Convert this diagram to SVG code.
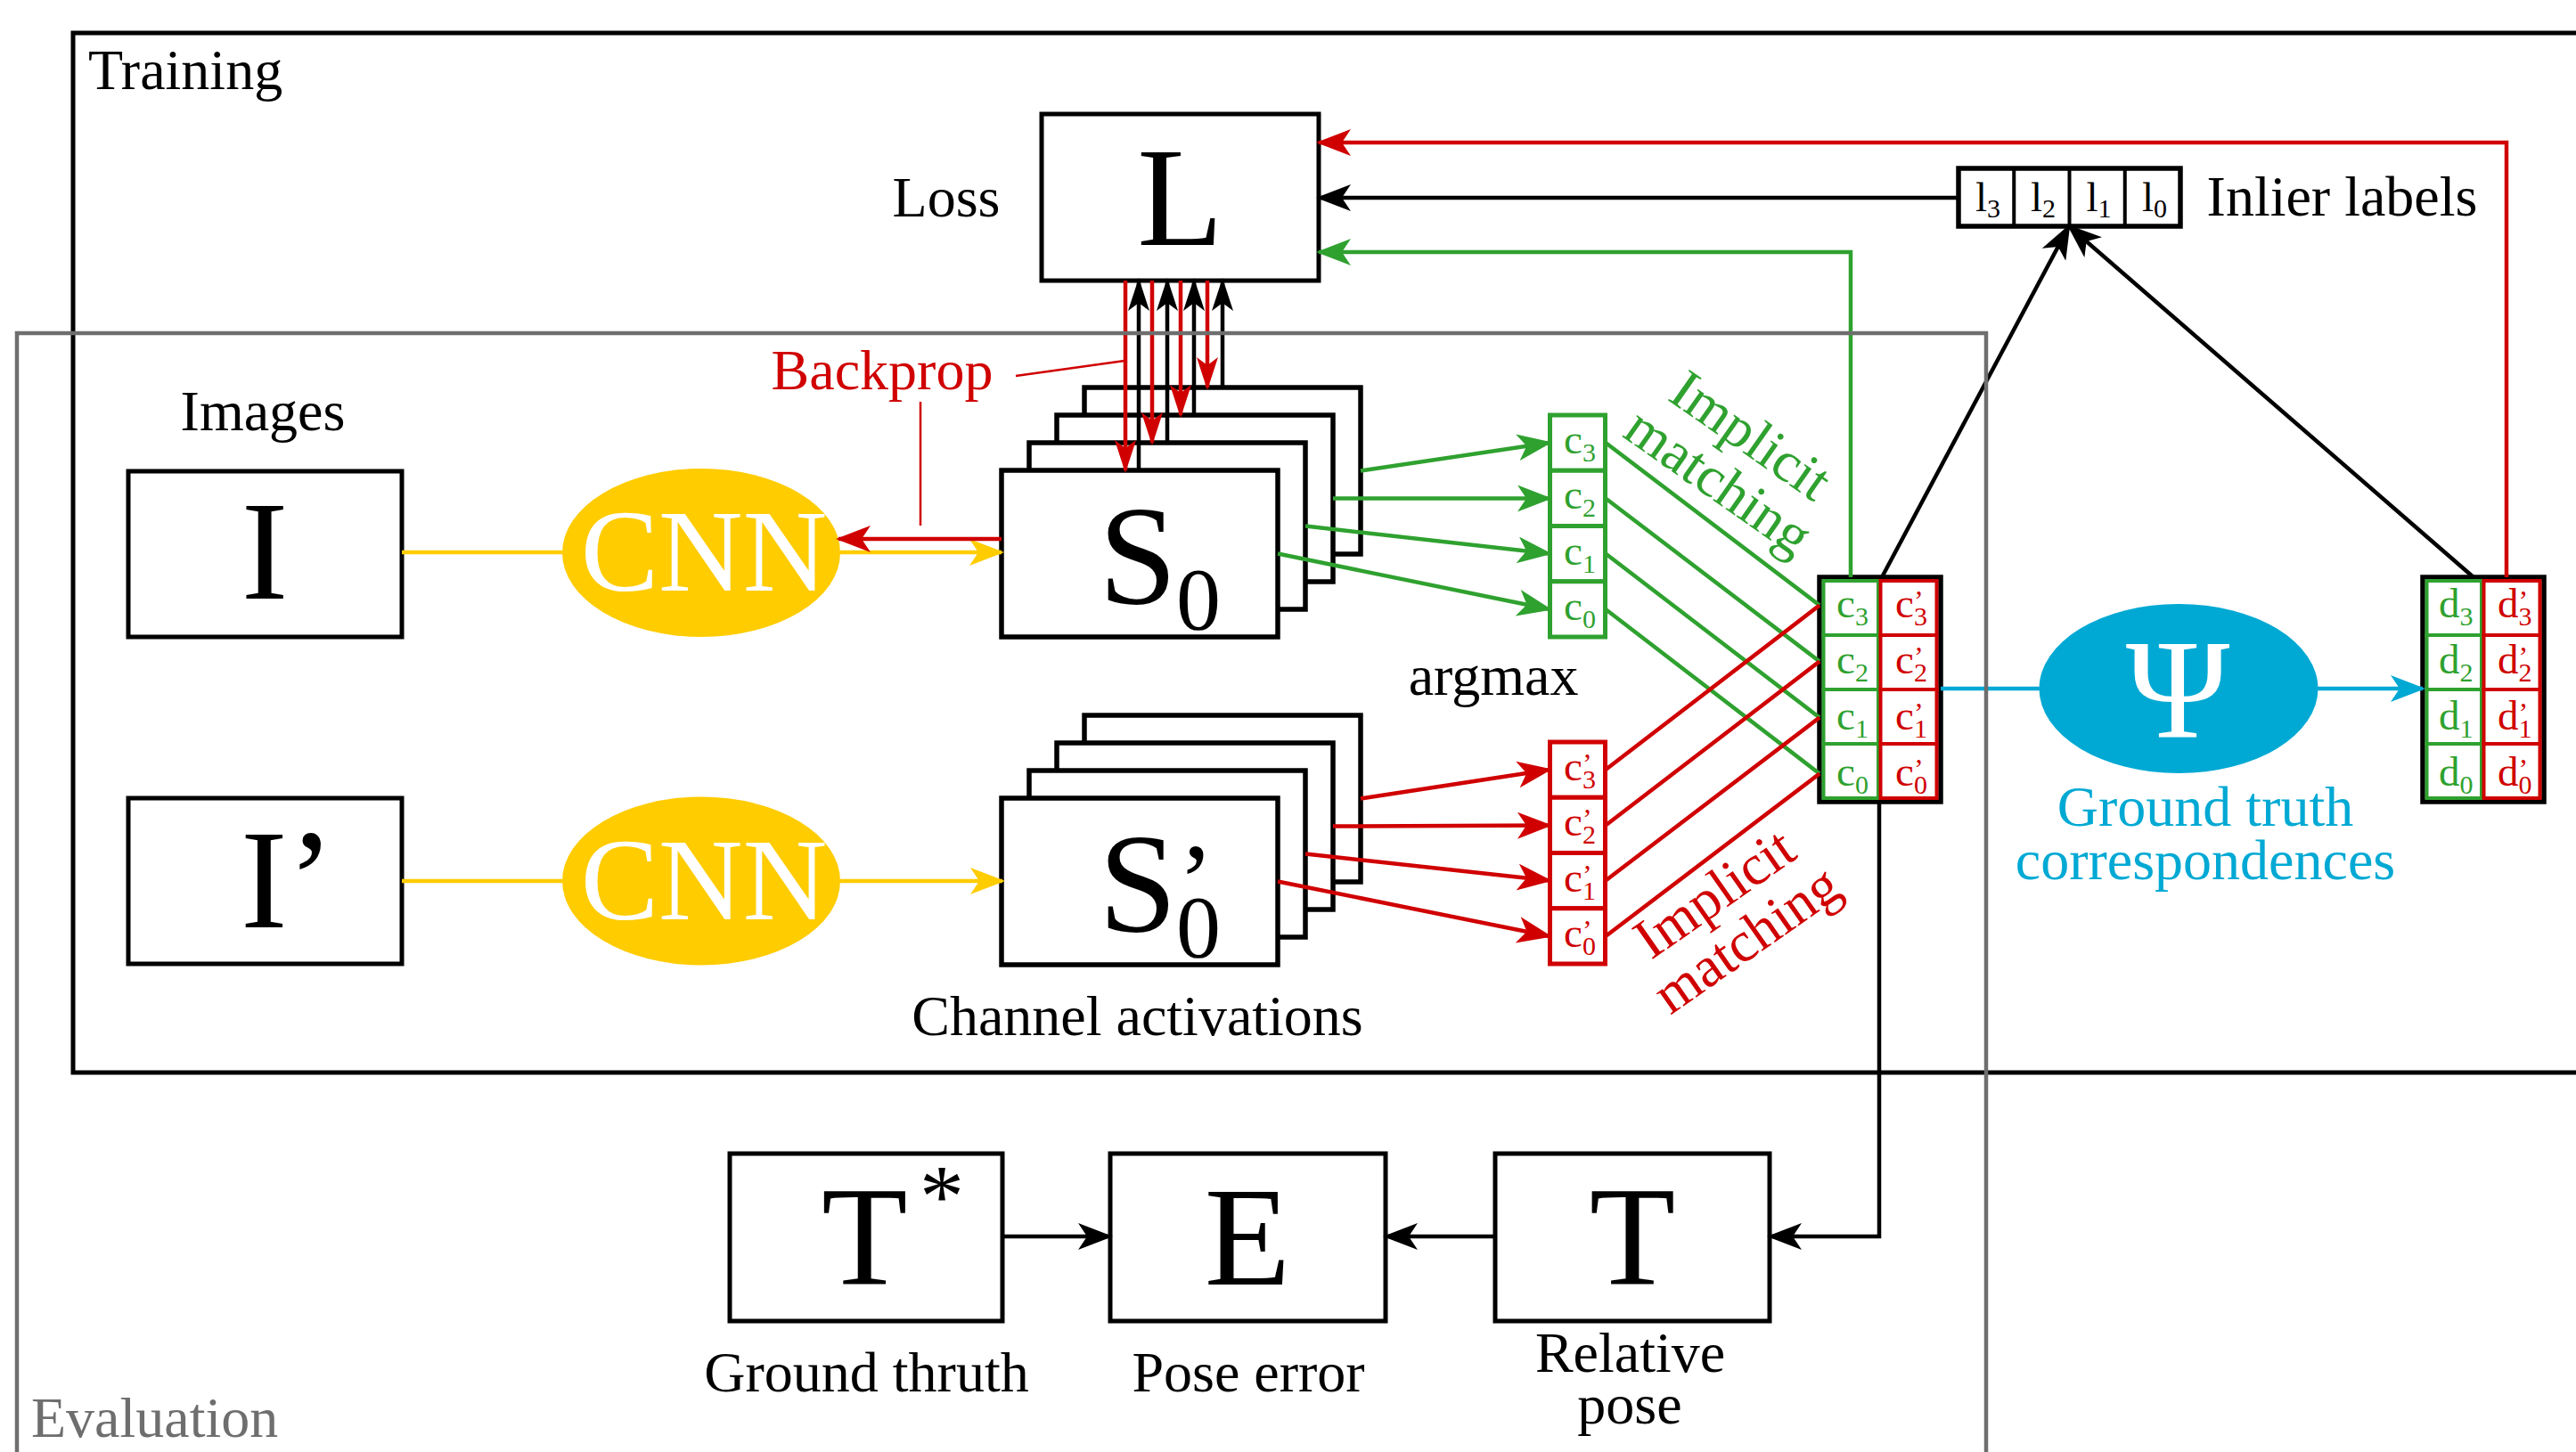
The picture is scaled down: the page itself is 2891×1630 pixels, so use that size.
<svg xmlns="http://www.w3.org/2000/svg" width="2891" height="1630" viewBox="0 0 2891 1630">
  <defs>
    <style>
      text { font-family: "Liberation Serif", "Times New Roman", serif; }
      .lbl { font-size: 64px; fill: #000; }
      .big { font-size: 158px; fill: #000; }
      .box { fill: #fff; stroke: #000; stroke-width: 5; }
      .sheet { fill: #fff; stroke: #000; stroke-width: 5.5; }
      .frame-train { fill: none; stroke: #000; stroke-width: 5; }
      .frame-eval { fill: none; stroke: #6e6e6e; stroke-width: 4.5; }
      .w { fill: none; stroke-width: 4.5; }
      .thin { fill: none; stroke-width: 2.5; }
      .k { stroke: #000; }
      .r { stroke: #d00000; }
      .g { stroke: #2fa12f; }
      .y { stroke: #ffcc00; }
      .b { stroke: #00a9d4; }
      .gc { fill: #fff; stroke: #2fa12f; stroke-width: 5; }
      .rc { fill: #fff; stroke: #d00000; stroke-width: 5; }
      .gi { fill: #fff; stroke: #2fa12f; stroke-width: 4; }
      .ri { fill: #fff; stroke: #d00000; stroke-width: 4; }
      .cell { font-size: 47px; }
      .sub { font-size: 30px; }
      .pr { font-size: 32px; }
      .tg { fill: #2fa12f; }
      .tr { fill: #d00000; }
      .tb { fill: #00a9d4; }
      .tw { fill: #fff; }
      .tgray { fill: #6e6e6e; }
      .mid { text-anchor: middle; }
    </style>
    <marker id="ah-k" viewBox="0 0 40 30" refX="37" refY="15" markerWidth="40" markerHeight="30" markerUnits="userSpaceOnUse" orient="auto">
      <path d="M40,15 L1,0 L11,15 L1,30 Z" fill="#000"/>
    </marker>
    <marker id="ah-r" viewBox="0 0 40 30" refX="37" refY="15" markerWidth="40" markerHeight="30" markerUnits="userSpaceOnUse" orient="auto">
      <path d="M40,15 L1,0 L11,15 L1,30 Z" fill="#d00000"/>
    </marker>
    <marker id="ah-g" viewBox="0 0 40 30" refX="37" refY="15" markerWidth="40" markerHeight="30" markerUnits="userSpaceOnUse" orient="auto">
      <path d="M40,15 L1,0 L11,15 L1,30 Z" fill="#2fa12f"/>
    </marker>
    <marker id="ah-y" viewBox="0 0 40 30" refX="37" refY="15" markerWidth="40" markerHeight="30" markerUnits="userSpaceOnUse" orient="auto">
      <path d="M40,15 L1,0 L11,15 L1,30 Z" fill="#ffcc00"/>
    </marker>
    <marker id="ah-b" viewBox="0 0 40 30" refX="37" refY="15" markerWidth="40" markerHeight="30" markerUnits="userSpaceOnUse" orient="auto">
      <path d="M40,15 L1,0 L11,15 L1,30 Z" fill="#00a9d4"/>
    </marker>
    <!-- narrower heads for the packed backprop arrows -->
    <marker id="ah-k-s" viewBox="0 0 38 24" refX="35" refY="12" markerWidth="38" markerHeight="24" markerUnits="userSpaceOnUse" orient="auto">
      <path d="M38,12 L1,0 L10,12 L1,24 Z" fill="#000"/>
    </marker>
    <marker id="ah-r-s" viewBox="0 0 38 24" refX="35" refY="12" markerWidth="38" markerHeight="24" markerUnits="userSpaceOnUse" orient="auto">
      <path d="M38,12 L1,0 L10,12 L1,24 Z" fill="#d00000"/>
    </marker>
  </defs>

  <rect width="2891" height="1630" fill="#fff"/>

  <!-- Training frame -->
  <g id="frame-training">
    <rect class="frame-train" x="82" y="37" width="2840" height="1167"/>
    <text class="lbl" x="99" y="100">Training</text>
  </g>

  <!-- Loss -->
  <g id="loss">
    <rect class="box" x="1169" y="128" width="311" height="187"/>
    <text class="big mid" x="1324.5" y="275">L</text>
    <text class="lbl mid" x="1062" y="243">Loss</text>
  </g>

  <!-- Inlier labels -->
  <g id="inliers">
    <rect x="2198" y="189" width="249" height="65" fill="#fff" stroke="#000" stroke-width="5.5"/>
    <path d="M2260.25,189 V254 M2322.5,189 V254 M2384.75,189 V254" stroke="#000" stroke-width="4" fill="none"/>
    <text class="cell" x="2217" y="237">l<tspan class="sub" dy="7">3</tspan></text>
    <text class="cell" x="2279" y="237">l<tspan class="sub" dy="7">2</tspan></text>
    <text class="cell" x="2341.5" y="237">l<tspan class="sub" dy="7">1</tspan></text>
    <text class="cell" x="2404" y="237">l<tspan class="sub" dy="7">0</tspan></text>
    <text class="lbl mid" x="2628.5" y="242">Inlier labels</text>
  </g>

  <!-- Input images -->
  <g id="images-label">
    <text class="lbl mid" x="295" y="483">Images</text>
  </g>
  <g id="img-i">
    <rect class="box" x="144" y="529" width="307" height="186"/>
    <text class="big mid" x="297" y="672" font-size="156">I</text>
  </g>
  <g id="img-i2">
    <rect class="box" x="144" y="896" width="307" height="186"/>
    <text class="big" x="270" y="1041" font-size="156">I’</text>
  </g>

  <!-- CNNs -->
  <g id="cnn-1">
    <ellipse cx="787" cy="620.5" rx="156" ry="94.5" fill="#ffcc00"/>
    <text class="tw mid" x="790" y="663" font-size="131">CNN</text>
  </g>
  <g id="cnn-2">
    <ellipse cx="787" cy="989" rx="156" ry="94.5" fill="#ffcc00"/>
    <text class="tw mid" x="790" y="1031.5" font-size="131">CNN</text>
  </g>

  <!-- Channel activation stacks -->
  <g id="act-s0">
    <rect class="sheet" x="1217" y="435" width="310" height="187"/>
    <rect class="sheet" x="1186" y="466" width="310" height="187"/>
    <rect class="sheet" x="1155" y="497" width="310" height="187"/>
    <rect class="sheet" x="1124" y="528" width="310" height="187"/>
    <text class="big" x="1233" y="677" font-size="160">S<tspan font-size="100" x="1320" y="706">0</tspan></text>
  </g>
  <g id="act-s0p">
    <rect class="sheet" x="1217" y="803" width="310" height="187"/>
    <rect class="sheet" x="1186" y="834" width="310" height="187"/>
    <rect class="sheet" x="1155" y="865" width="310" height="187"/>
    <rect class="sheet" x="1124" y="896" width="310" height="187"/>
    <text class="big" x="1233" y="1045" font-size="160">S<tspan font-size="120" x="1322" y="1030">’</tspan><tspan font-size="100" x="1320" y="1074">0</tspan></text>
  </g>
  <g id="act-label">
    <text class="lbl mid" x="1276.5" y="1162">Channel activations</text>
  </g>

  <!-- argmax keypoints of I -->
  <g id="kp-c">
    <rect class="gc" x="1739.5" y="466" width="62" height="62.25"/>
    <rect class="gc" x="1739.5" y="528.25" width="62" height="62.25"/>
    <rect class="gc" x="1739.5" y="590.5" width="62" height="62.25"/>
    <rect class="gc" x="1739.5" y="652.75" width="62" height="62.25"/>
    <text class="cell tg" x="1755" y="509">c<tspan class="sub" dy="9">3</tspan></text>
    <text class="cell tg" x="1755" y="571">c<tspan class="sub" dy="9">2</tspan></text>
    <text class="cell tg" x="1755" y="634">c<tspan class="sub" dy="9">1</tspan></text>
    <text class="cell tg" x="1755" y="696">c<tspan class="sub" dy="9">0</tspan></text>
  </g>
  <!-- argmax keypoints of I' -->
  <g id="kp-cp">
    <rect class="rc" x="1739.5" y="833" width="62" height="62.25"/>
    <rect class="rc" x="1739.5" y="895.25" width="62" height="62.25"/>
    <rect class="rc" x="1739.5" y="957.5" width="62" height="62.25"/>
    <rect class="rc" x="1739.5" y="1019.75" width="62" height="62.25"/>
    <text class="cell tr" x="1755" y="876">c<tspan class="pr" dy="-8">’</tspan><tspan class="sub" x="1775.9" dy="17">3</tspan></text>
    <text class="cell tr" x="1755" y="938">c<tspan class="pr" dy="-8">’</tspan><tspan class="sub" x="1775.9" dy="17">2</tspan></text>
    <text class="cell tr" x="1755" y="1000.5">c<tspan class="pr" dy="-8">’</tspan><tspan class="sub" x="1775.9" dy="17">1</tspan></text>
    <text class="cell tr" x="1755" y="1063">c<tspan class="pr" dy="-8">’</tspan><tspan class="sub" x="1775.9" dy="17">0</tspan></text>
  </g>
  <g id="argmax-label">
    <text class="lbl mid" x="1676" y="780">argmax</text>
  </g>

  <!-- matched pairs -->
  <g id="corr-c">
    <rect x="2042" y="648" width="136" height="252" fill="#fff" stroke="#000" stroke-width="5.5"/>
    <rect class="gi" x="2046.5" y="652" width="61.5" height="61"/>
    <rect class="gi" x="2046.5" y="713" width="61.5" height="61"/>
    <rect class="gi" x="2046.5" y="774" width="61.5" height="61"/>
    <rect class="gi" x="2046.5" y="835" width="61.5" height="61"/>
    <rect class="ri" x="2110.5" y="652" width="63" height="61"/>
    <rect class="ri" x="2110.5" y="713" width="63" height="61"/>
    <rect class="ri" x="2110.5" y="774" width="63" height="61"/>
    <rect class="ri" x="2110.5" y="835" width="63" height="61"/>
    <text class="cell tg" x="2061" y="693">c<tspan class="sub" dy="9">3</tspan></text>
    <text class="cell tg" x="2061" y="756">c<tspan class="sub" dy="9">2</tspan></text>
    <text class="cell tg" x="2061" y="819">c<tspan class="sub" dy="9">1</tspan></text>
    <text class="cell tg" x="2061" y="882">c<tspan class="sub" dy="9">0</tspan></text>
    <text class="cell tr" x="2127" y="693">c<tspan class="pr" dy="-8">’</tspan><tspan class="sub" x="2147.9" dy="17">3</tspan></text>
    <text class="cell tr" x="2127" y="756">c<tspan class="pr" dy="-8">’</tspan><tspan class="sub" x="2147.9" dy="17">2</tspan></text>
    <text class="cell tr" x="2127" y="819">c<tspan class="pr" dy="-8">’</tspan><tspan class="sub" x="2147.9" dy="17">1</tspan></text>
    <text class="cell tr" x="2127" y="882">c<tspan class="pr" dy="-8">’</tspan><tspan class="sub" x="2147.9" dy="17">0</tspan></text>
  </g>

  <!-- ground truth mapping -->
  <g id="gt-psi">
    <ellipse cx="2445" cy="773" rx="156.5" ry="95" fill="#00a9d4"/>
    <text class="tw mid" x="2444" y="827" font-size="158">Ψ</text>
    <text class="lbl tb mid" x="2475" y="927">Ground truth</text>
    <text class="lbl tb mid" x="2475" y="987">correspondences</text>
  </g>

  <g id="corr-d">
    <rect x="2719" y="648" width="136" height="252" fill="#fff" stroke="#000" stroke-width="5.5"/>
    <rect class="gi" x="2723.5" y="652" width="61.5" height="61"/>
    <rect class="gi" x="2723.5" y="713" width="61.5" height="61"/>
    <rect class="gi" x="2723.5" y="774" width="61.5" height="61"/>
    <rect class="gi" x="2723.5" y="835" width="61.5" height="61"/>
    <rect class="ri" x="2787.5" y="652" width="63" height="61"/>
    <rect class="ri" x="2787.5" y="713" width="63" height="61"/>
    <rect class="ri" x="2787.5" y="774" width="63" height="61"/>
    <rect class="ri" x="2787.5" y="835" width="63" height="61"/>
    <text class="cell tg" x="2737" y="693">d<tspan class="sub" dy="9">3</tspan></text>
    <text class="cell tg" x="2737" y="756">d<tspan class="sub" dy="9">2</tspan></text>
    <text class="cell tg" x="2737" y="819">d<tspan class="sub" dy="9">1</tspan></text>
    <text class="cell tg" x="2737" y="882">d<tspan class="sub" dy="9">0</tspan></text>
    <text class="cell tr" x="2803" y="693">d<tspan class="pr" dy="-8">’</tspan><tspan class="sub" x="2826.5" dy="17">3</tspan></text>
    <text class="cell tr" x="2803" y="756">d<tspan class="pr" dy="-8">’</tspan><tspan class="sub" x="2826.5" dy="17">2</tspan></text>
    <text class="cell tr" x="2803" y="819">d<tspan class="pr" dy="-8">’</tspan><tspan class="sub" x="2826.5" dy="17">1</tspan></text>
    <text class="cell tr" x="2803" y="882">d<tspan class="pr" dy="-8">’</tspan><tspan class="sub" x="2826.5" dy="17">0</tspan></text>
  </g>

  <!-- evaluation nodes -->
  <g id="pose-gt">
    <rect class="box" x="819" y="1295" width="306" height="188"/>
    <text class="big" x="922" y="1442">T<tspan font-size="100" x="1032" y="1376">*</tspan></text>
    <text class="lbl mid" x="972.5" y="1562">Ground thruth</text>
  </g>
  <g id="pose-err">
    <rect class="box" x="1246" y="1295" width="309" height="188"/>
    <text class="big mid" x="1400" y="1442">E</text>
    <text class="lbl mid" x="1401" y="1562">Pose error</text>
  </g>
  <g id="pose-rel">
    <rect class="box" x="1678" y="1295" width="308" height="188"/>
    <text class="big mid" x="1832" y="1442">T</text>
    <text class="lbl mid" x="1829.5" y="1540">Relative</text>
    <text class="lbl mid" x="1829" y="1598">pose</text>
  </g>

  <!-- labels on the matching lines -->
  <g id="match-label-c" transform="translate(1953,506) rotate(35)">
    <text class="lbl tg mid" x="0" y="0">Implicit</text>
    <text class="lbl tg mid" x="0" y="63">matching</text>
  </g>
  <g id="match-label-cp" transform="translate(1936,1020) rotate(-35)">
    <text class="lbl tr mid" x="0" y="0">Implicit</text>
    <text class="lbl tr mid" x="0" y="63">matching</text>
  </g>
  <g id="backprop-label">
    <text class="lbl tr mid" x="990" y="437">Backprop</text>
  </g>

  <!-- connectors -->
  <g id="connectors">
    <!-- images through the CNNs -->
    <path class="w y" d="M451,620 H631"/>
    <path class="w y" d="M943,620 H1124" marker-end="url(#ah-y)"/>
    <path class="w y" d="M451,989 H631"/>
    <path class="w y" d="M943,989 H1125" marker-end="url(#ah-y)"/>
    <path class="w r" d="M1124,605 H941" marker-end="url(#ah-r)"/>
    <path class="thin r" d="M1033,451 V590"/>
    <path class="thin r" d="M1140,422 L1262,405"/>

    <!-- loss / backprop between L and the activation maps -->
    <path class="w r" d="M1263,315 V528" marker-end="url(#ah-r-s)"/>
    <path class="w r" d="M1293,315 V497" marker-end="url(#ah-r-s)"/>
    <path class="w r" d="M1325,315 V466" marker-end="url(#ah-r-s)"/>
    <path class="w r" d="M1355,315 V435" marker-end="url(#ah-r-s)"/>
    <path class="w k" d="M1278,528 V315" marker-end="url(#ah-k-s)"/>
    <path class="w k" d="M1310,497 V315" marker-end="url(#ah-k-s)"/>
    <path class="w k" d="M1340,466 V315" marker-end="url(#ah-k-s)"/>
    <path class="w k" d="M1372,435 V315" marker-end="url(#ah-k-s)"/>

    <!-- argmax per channel -->
    <path class="w g" d="M1527,528.5 L1739,497" marker-end="url(#ah-g)"/>
    <path class="w g" d="M1496,559.5 L1739,559.5" marker-end="url(#ah-g)"/>
    <path class="w g" d="M1465,590.5 L1739,621.5" marker-end="url(#ah-g)"/>
    <path class="w g" d="M1434,621.5 L1739,684" marker-end="url(#ah-g)"/>
    <path class="w r" d="M1527,896.5 L1739,864" marker-end="url(#ah-r)"/>
    <path class="w r" d="M1496,927.5 L1739,926.5" marker-end="url(#ah-r)"/>
    <path class="w r" d="M1465,958.5 L1739,988.5" marker-end="url(#ah-r)"/>
    <path class="w r" d="M1434,989.5 L1739,1051" marker-end="url(#ah-r)"/>

    <!-- implicit matching -->
    <path class="w g" d="M1802,497 L2042,679.5 M1802,559.5 L2042,742.5 M1802,621.5 L2042,805.5 M1802,684 L2042,868.5"/>
    <path class="w r" d="M1802,864 L2042,679.5 M1802,926.5 L2042,742.5 M1802,988.5 L2042,805.5 M1802,1051 L2042,868.5"/>

    <!-- into the loss -->
    <path class="w r" d="M2813,648 V160 H1480" marker-end="url(#ah-r)"/>
    <path class="w k" d="M2198,222 H1480" marker-end="url(#ah-k)"/>
    <path class="w g" d="M2077,648 V283 H1480" marker-end="url(#ah-g)"/>
    <path class="w k" d="M2112,648 L2322,254" marker-end="url(#ah-k)"/>
    <path class="w k" d="M2776,648 L2322,254" marker-end="url(#ah-k)"/>

    <!-- ground truth mapping -->
    <path class="w b" d="M2178,773 H2289"/>
    <path class="w b" d="M2601,773 H2719" marker-end="url(#ah-b)"/>

    <!-- evaluation -->
    <path class="w k" d="M2109,900 V1388 H1986" marker-end="url(#ah-k)"/>
    <path class="w k" d="M1125,1388 H1246" marker-end="url(#ah-k)"/>
    <path class="w k" d="M1678,1388 H1555" marker-end="url(#ah-k)"/>
  </g>

  <!-- Evaluation frame -->
  <g id="frame-eval">
    <rect class="frame-eval" x="19" y="374" width="2210" height="1300"/>
    <text class="lbl tgray" x="35" y="1613">Evaluation</text>
  </g>
</svg>
